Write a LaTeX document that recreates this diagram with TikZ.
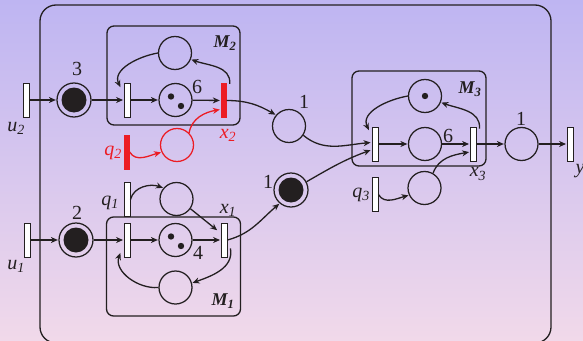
\documentclass[tikz,border=0pt]{standalone}
\usepackage{fontspec}
\setmainfont{Liberation Serif}
\usetikzlibrary{arrows.meta,positioning,calc}

\definecolor{ink}{RGB}{35,31,32}
\definecolor{netred}{RGB}{236,28,36}
\definecolor{bgtop}{RGB}{190,181,242}
\definecolor{bgbot}{RGB}{241,217,234}

\begin{document}
\begin{tikzpicture}[x=1pt, y=-1pt,
    % Node styles
    place/.style={draw=ink, circle, minimum size=33pt, inner sep=0pt, line width=1.25pt},
    marked/.style={place, minimum size=34pt, path picture={\fill[ink] (path picture bounding box.center) circle (12.5pt);}},
    onetok/.style={place, path picture={\fill[ink] (path picture bounding box.center) circle (3.2pt);}},
    twotok/.style={place, path picture={\fill[ink] ([shift={(-4.5,-3.5)}]path picture bounding box.center) circle (3.2pt)
        ([shift={(5.5,6)}]path picture bounding box.center) circle (3.2pt);}},
    trans/.style={draw=ink, fill=white, minimum width=6pt, minimum height=34pt, inner sep=0pt, line width=0.9pt},
    redtrans/.style={fill=netred, minimum width=6pt, minimum height=35pt, inner sep=0pt},
    module/.style={draw=ink, rounded corners=7pt, line width=1.3pt, inner sep=0pt},
    arrow/.style={-{Stealth[length=7pt, width=6pt]}, line width=1.3pt, draw=ink, shorten >=0.5pt},
    txt/.style={font=\fontsize{20}{20}\selectfont, text=ink, inner sep=0pt},
    modtxt/.style={font=\fontsize{18}{18}\selectfont\bfseries\itshape, text=ink, inner sep=0pt}
]

% Background
\clip (0,0) rectangle (583,340);
\fill[top color=bgtop, bottom color=bgbot] (0,0) rectangle (583,340);

% Frame and modules
\node[module, rounded corners=16pt, minimum width=511pt, minimum height=338pt] (frame) at (295.5,174) {};
\node[module, minimum width=133pt, minimum height=99pt] (M2) at (173.5,75.5) {};
\node[module, minimum width=134pt, minimum height=99pt] (M1) at (173.5,266.5) {};
\node[module, minimum width=134pt, minimum height=95pt] (M3) at (419,118.5) {};
\node[modtxt] at (225,43) {M\textsubscript{2}};
\node[modtxt] at (223,301) {M\textsubscript{1}};
\node[modtxt] at (470,89) {M\textsubscript{3}};

% Upper branch
\node[trans] (u2) at (26.5,100) {};
\node[marked] (p3) at (74,100) {};
\node[trans] (t2) at (127,100) {};
\node[twotok] (m2mid) at (175.5,100) {};
\node[place] (m2top) at (175,53) {};
\node[redtrans] (x2) at (223.5,100.5) {};
\node[redtrans] (q2) at (126.5,152) {};
\node[place, draw=netred] (q2p) at (177,145) {};

% Lower branch
\node[trans] (u1) at (27.5,240) {};
\node[marked] (p2) at (76,240) {};
\node[trans] (t1) at (127,240) {};
\node[twotok] (m1mid) at (175.5,240) {};
\node[trans] (x1) at (224,240) {};
\node[place] (m1bot) at (175.5,287.5) {};
\node[trans] (q1) at (127,199.5) {};
\node[place] (q1p) at (176.5,199) {};

% Middle places
\node[place] (p1a) at (289,126) {};
\node[marked] (p1b) at (291,190) {};

% Output branch
\node[trans] (t3) at (375.5,144) {};
\node[onetok] (m3top) at (425,96) {};
\node[place] (m3mid) at (425,144) {};
\node[trans] (x3) at (473,144) {};
\node[trans] (q3) at (375,194.5) {};
\node[place] (q3p) at (424.5,188) {};
\node[place] (pout) at (521.5,144) {};
\node[trans] (y) at (570,144) {};

% Labels
\node[txt] at (77,69) {3};
\node[txt] at (77,213) {2};
\node[txt] at (197,87) {6};
\node[txt] at (198,253) {4};
\node[txt] at (304,102) {1};
\node[txt] at (268,182) {1};
\node[txt] at (448,136) {6};
\node[txt] at (521,119) {1};
\node[txt] at (16,128) {\textit{u\textsubscript{2}}};
\node[txt] at (16,266) {\textit{u\textsubscript{1}}};
\node[txt, text=netred] at (113,153) {\textit{q\textsubscript{2}}};
\node[txt, text=netred] at (228,135) {\textit{x\textsubscript{2}}};
\node[txt] at (110,203) {\textit{q\textsubscript{1}}};
\node[txt] at (228,210) {\textit{x\textsubscript{1}}};
\node[txt] at (361,195) {\textit{q\textsubscript{3}}};
\node[txt] at (478,174) {\textit{x\textsubscript{3}}};
\node[txt] at (580,171) {\textit{y}};

% Straight arcs
\draw[arrow] (u2) -- (p3);
\draw[arrow] (p3) -- (t2);
\draw[arrow] (t2) -- (m2mid);
\draw[arrow] (m2mid) -- (x2);
\draw[arrow] (u1) -- (p2);
\draw[arrow] (p2) -- (t1);
\draw[arrow] (t1) -- (m1mid);
\draw[arrow] (m1mid) -- (x1);
\draw[arrow] (t3) -- (m3mid);
\draw[arrow] (m3mid) -- (x3);
\draw[arrow] (x3) -- (pout);
\draw[arrow] (pout) -- (y);

% Module loops
\draw[arrow] (m2top.west) to[out=190, in=115] ([xshift=-3pt, yshift=-5pt]t2.north west);
\draw[arrow] ([xshift=3pt, yshift=-1pt]x2.north east) to[out=85, in=-20] (m2top.-22);
\draw[arrow] ([xshift=3pt, yshift=9pt]x1.south east) to[out=-80, in=20] (m1bot.15);
\draw[arrow] (m1bot.west) to[out=185, in=-110] ([xshift=-3pt, yshift=5pt]t1.south west);
\draw[arrow] (m3top.west) to[out=190, in=115] ([xshift=-3pt, yshift=-4pt]t3.north west);
\draw[arrow] ([xshift=3pt, yshift=-2pt]x3.north east) to[out=85, in=-20] (m3top.-22);

% Control inputs
\draw[arrow, draw=netred] (q2.east) to[out=-60, in=195] (q2p.205);
\draw[arrow, draw=netred] (q2p.45) to[out=80, in=190] ([yshift=-9pt]x2.west);
\draw[arrow] (q1.east) to[out=75, in=160] (q1p.140);
\draw[arrow] (q1p.-35) -- ([xshift=-3pt, yshift=-8pt]x1.north west);
\draw[arrow] (q3.east) to[out=-60, in=195] (q3p.205);
\draw[arrow] (q3p.60) to[out=70, in=190] ([yshift=-8pt]x3.west);

% Links between modules
\draw[arrow] (x2.east) to[out=0, in=150] (p1a.140);
\draw[arrow] (x1.east) to[out=15, in=220] (p1b.230);
\draw[arrow] (p1a.-33) to[out=-40, in=185] ([xshift=-1pt, yshift=1.5pt]t3.west);
\draw[arrow] (p1b.28) to[out=30, in=200] ([xshift=-1pt, yshift=-6pt]t3.west);

\end{tikzpicture}
\end{document}
